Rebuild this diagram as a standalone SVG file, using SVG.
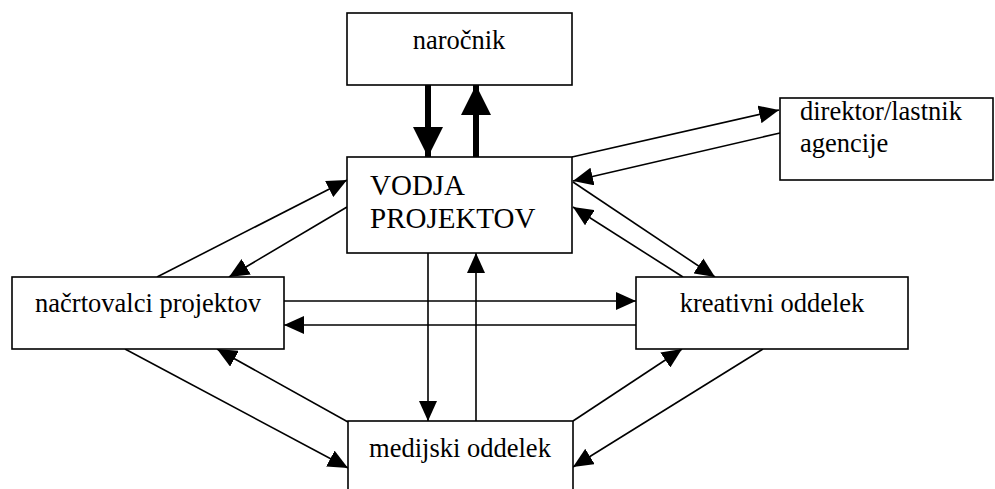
<svg xmlns="http://www.w3.org/2000/svg" width="995" height="489" viewBox="0 0 995 489">
<style>
.box{fill:#fff;stroke:#000;stroke-width:1.6}
.c{stroke:#000;stroke-width:1.6;fill:none;marker-end:url(#ah)}
.k{stroke:#000;stroke-width:6;fill:none;marker-end:url(#ahk)}
</style>
<defs>
<marker id="ah" markerUnits="userSpaceOnUse" markerWidth="20" markerHeight="18" refX="20" refY="9" orient="auto">
<path d="M0,0 L20,9 L0,18 Z" fill="#000"/>
</marker>
<marker id="ahk" markerUnits="userSpaceOnUse" markerWidth="30" markerHeight="30" refX="30" refY="15" orient="auto">
<path d="M0,0 L30,15 L0,30 Z" fill="#000"/>
</marker>
</defs>
<g id="connectors">
<line class="k" x1="428" y1="85" x2="428" y2="157"/>
<line class="k" x1="476" y1="157" x2="476" y2="85"/>
<line class="c" x1="572" y1="157" x2="779" y2="110"/>
<line class="c" x1="780" y1="133" x2="573" y2="181"/>
<line class="c" x1="573" y1="182" x2="715" y2="277"/>
<line class="c" x1="683" y1="277" x2="573" y2="207"/>
<line class="c" x1="157" y1="277" x2="347" y2="180"/>
<line class="c" x1="347" y1="207" x2="229" y2="277"/>
<line class="c" x1="284" y1="301" x2="636" y2="301"/>
<line class="c" x1="636" y1="325" x2="284" y2="325"/>
<line class="c" x1="428" y1="253" x2="428" y2="421"/>
<line class="c" x1="476" y1="421" x2="476" y2="253"/>
<line class="c" x1="125" y1="349" x2="348" y2="468"/>
<line class="c" x1="348" y1="422" x2="217" y2="349"/>
<line class="c" x1="573" y1="421" x2="682" y2="349"/>
<line class="c" x1="763" y1="349" x2="573" y2="467"/>
</g>
<g font-family="Liberation Serif, Times New Roman, serif" font-size="26.5" fill="#000">
<g id="narocnik">
<rect class="box" x="347" y="13" width="225" height="72"/>
<text x="459" y="49" text-anchor="middle">naročnik</text>
</g>
<g id="vodja">
<rect class="box" x="347" y="157" width="225" height="96"/>
<text x="370" y="195" font-size="29">VODJA</text>
<text x="370" y="228" font-size="29">PROJEKTOV</text>
</g>
<g id="direktor">
<rect class="box" x="780" y="98" width="213" height="82"/>
<text x="800" y="120">direktor/lastnik</text>
<text x="800" y="152">agencije</text>
</g>
<g id="nacrtovalci">
<rect class="box" x="12" y="277" width="272" height="72"/>
<text x="148" y="312" text-anchor="middle">načrtovalci projektov</text>
</g>
<g id="kreativni">
<rect class="box" x="636" y="277" width="272" height="72"/>
<text x="772" y="312" text-anchor="middle">kreativni oddelek</text>
</g>
<g id="medijski">
<rect class="box" x="348" y="421" width="225" height="80"/>
<text x="460" y="457" text-anchor="middle">medijski oddelek</text>
</g>
</g>
</svg>
